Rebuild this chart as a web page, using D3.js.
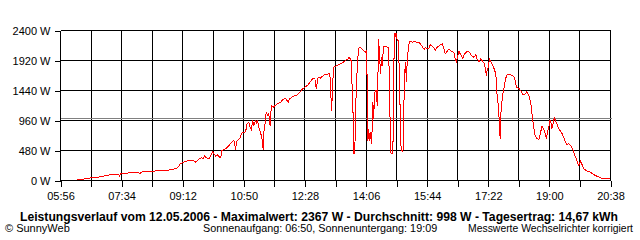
<!DOCTYPE html>
<html>
<head>
<meta charset="utf-8">
<script src="https://cdn.jsdelivr.net/npm/d3@7"></script>
<style>
html,body{margin:0;padding:0;background:#fff;}
svg{display:block;}
text{font-family:"Liberation Sans",Arial,sans-serif;}
</style>
</head>
<body>
<svg id="chart" width="640" height="240"></svg>
<script>
// ---- data ----
const times = ["06:22","06:36","06:46","07:00","07:10","07:19","07:29","07:31","07:32","07:43","07:45","08:01","08:03","08:08","08:24","08:30","08:46","08:52","08:59","09:04","09:08","09:13","09:20","09:29","09:33","09:37","09:42","09:45","09:47","09:50","09:54","09:57","10:00","10:02","10:05","10:08","10:12","10:14","10:15","10:21","10:26","10:29","10:31","10:34","10:37","10:38","10:40","10:44","10:46","10:49","10:51","10:54","10:55","10:58","11:00","11:02","11:04","11:06","11:09","11:10","11:12","11:14","11:17","11:19","11:21","11:22","11:24","11:25","11:26","11:28","11:30","11:32","11:33","11:34","11:37","11:44","11:49","11:52","11:57","12:01","12:03","12:10","12:16","12:21","12:24","12:26","12:30","12:33","12:37","12:41","12:44","12:46","12:49","12:50","12:53","12:56","13:01","13:08","13:09","13:11","13:12","13:14","13:17","13:22","13:28","13:33","13:37","13:39","13:42","13:45","13:46","13:48","13:49","13:52","13:54","13:57","14:00","14:02","14:05","14:07","14:09","14:10","14:12","14:14","14:15","14:16","14:17","14:18","14:20","14:22","14:24","14:25","14:26","14:28","14:29","14:31","14:32","14:34","14:40","14:42","14:44","14:45","14:48","14:49","14:51","14:52","14:53","14:54","14:56","14:58","15:00","15:02","15:04","15:06","15:07","15:08","15:09","15:11","15:12","15:14","15:15","15:16","15:20","15:25","15:28","15:31","15:33","15:36","15:38","15:40","15:41","15:44","15:47","15:49","15:52","15:55","15:57","16:00","16:03","16:05","16:08","16:11","16:13","16:16","16:19","16:21","16:24","16:27","16:29","16:31","16:33","16:35","16:37","16:41","16:44","16:48","16:52","16:55","16:59","17:02","17:04","17:07","17:10","17:13","17:16","17:19","17:20","17:22","17:24","17:27","17:31","17:34","17:35","17:36","17:38","17:40","17:41","17:42","17:43","17:45","17:47","17:50","17:52","17:56","18:00","18:03","18:06","18:07","18:11","18:15","18:18","18:22","18:24","18:27","18:30","18:32","18:35","18:37","18:39","18:43","18:46","18:48","18:51","18:54","18:55","18:57","18:59","19:01","19:03","19:04","19:06","19:08","19:10","19:12","19:15","19:18","19:20","19:23","19:26","19:28","19:31","19:34","19:37","19:39","19:42","19:45","19:47","19:50","19:53","19:55","20:01","20:06","20:11","20:17","20:22","20:27","20:37"];
const watts = [10,27,43,59,80,96,96,64,112,112,128,128,112,144,144,160,160,171,187,203,267,293,315,320,293,336,363,347,389,363,347,400,453,427,389,411,363,411,480,507,560,597,619,640,491,613,640,683,747,773,763,827,907,933,853,811,960,880,971,907,971,853,757,683,491,773,907,1024,1093,1040,1067,880,987,1200,1173,1227,1253,1291,1317,1253,1307,1349,1371,1424,1467,1477,1509,1531,1584,1637,1627,1467,1637,1653,1637,1669,1701,1707,1467,1120,1467,1813,1829,1851,1883,1920,1947,1973,1920,1152,427,427,1093,1840,2117,2133,2096,2080,2053,2080,640,827,640,773,587,933,1253,987,1413,1440,1200,1627,2267,1973,1707,1973,1840,2149,2133,2123,1413,453,427,427,2080,2367,2293,2363,2240,2240,1413,560,464,507,1413,1680,1893,1573,1947,2107,2187,2224,2213,2224,2203,2213,2187,2149,2107,2096,2133,2107,2117,2171,2149,2117,2080,2133,2149,2171,2187,2107,2027,2064,2107,2080,2064,2043,1936,1904,1989,2064,2027,1957,2027,2064,2053,2000,1973,2011,1947,1904,1947,1904,1867,1680,1760,1813,1947,1883,1797,1707,1600,1387,1200,891,667,1040,1173,1360,1467,1637,1691,1701,1680,1669,1573,1493,1477,1424,1371,1387,1424,1360,1253,1067,853,720,683,651,773,864,827,720,667,773,853,960,907,827,907,1003,949,907,827,789,757,693,613,576,587,560,507,453,373,293,240,309,240,187,149,133,96,64,43,27,27];
const yTicks = [0,480,960,1440,1920,2400];
const xTickLabels = ["05:56","07:34","09:12","10:50","12:28","14:06","15:44","17:22","19:00","20:38"];
const averageW = 998;
const maxW = 2367;
const dayYield = "14,67";
const dateStr = "12.05.2006";
const sunrise = "06:50";
const sunset = "19:09";

// ---- helpers ----
const toMin = s => { const [h,m] = s.split(":").map(Number); return h*60+m; };
const fmt = m => String(Math.floor(m/60)).padStart(2,"0")+":"+String(m%60).padStart(2,"0");

const t0 = toMin(xTickLabels[0]), t1 = toMin(xTickLabels[xTickLabels.length-1]);
const step = (toMin(xTickLabels[1]) - t0) / 2; // grid every half label interval
const gridTimes = d3.range(t0, t1 + 1, step);

const x = d3.scaleLinear().domain([t0, t1]).range([60.5, 610.5]);
const y = d3.scaleLinear().domain([0, 2400]).range([180.5, 30.5]);

const svg = d3.select("#chart");

// grid
const g = svg.append("g").attr("shape-rendering","crispEdges");
g.selectAll("line.h").data(yTicks).join("line")
  .attr("x1", x(t0)).attr("x2", x(t1))
  .attr("y1", d => Math.round(y(d)-0.5)+0.5).attr("y2", d => Math.round(y(d)-0.5)+0.5)
  .attr("stroke","#000").attr("stroke-width",1);
g.selectAll("line.v").data(gridTimes).join("line")
  .attr("x1", d => Math.round(x(d)-0.5)+0.5).attr("x2", d => Math.round(x(d)-0.5)+0.5)
  .attr("y1", y(0)).attr("y2", y(2400))
  .attr("stroke","#000").attr("stroke-width",1);

// average line
const ya = Math.round(y(averageW)-0.5)+0.5;
svg.append("line").attr("shape-rendering","crispEdges")
  .attr("x1", x(t0)).attr("x2", x(t1)+1).attr("y1", ya).attr("y2", ya)
  .attr("stroke","#808080").attr("stroke-width",1);

// axes (ticks + labels)
const yAxis = d3.axisLeft(y).tickValues(yTicks).tickSize(6).tickPadding(4)
  .tickFormat(d => d + " W");
const ya_g = svg.append("g").attr("transform", `translate(${x(t0)},0)`).call(yAxis);
const xAxis = d3.axisBottom(x).tickValues(gridTimes).tickSize(6).tickPadding(6)
  .tickFormat(d => xTickLabels.includes(fmt(d)) ? fmt(d) : "");
const xa_g = svg.append("g").attr("transform", `translate(0,${y(0)})`).call(xAxis);
[ya_g, xa_g].forEach(a => {
  a.select(".domain").remove();
  a.selectAll("line").attr("stroke","#000").attr("shape-rendering","crispEdges");
  a.selectAll("text").attr("font-family","Liberation Sans, Arial, sans-serif").attr("font-size","11px").attr("fill","#000");
});

// power line
const pts = times.map((t,i) => [toMin(t), watts[i]]);
const line = d3.line().x(d => x(d[0])).y(d => y(d[1]));
svg.append("path").datum(pts)
  .attr("d", line).attr("fill","none")
  .attr("stroke","#ff0000").attr("stroke-width",1)
  .attr("shape-rendering","crispEdges");

// texts
svg.append("text").attr("x", 319).attr("y", 220.5)
  .attr("text-anchor","middle").attr("font-weight","bold").attr("font-size","12.5px")
  .attr("textLength", 598).attr("lengthAdjust","spacingAndGlyphs")
  .text(`Leistungsverlauf vom ${dateStr} - Maximalwert: ${maxW} W - Durchschnitt: ${averageW} W - Tagesertrag: ${dayYield} kWh`);
svg.append("text").attr("x", 5).attr("y", 232).attr("font-size","11px")
  .text("© SunnyWeb");
svg.append("text").attr("x", 203).attr("y", 232).attr("font-size","10.8px")
  .text(`Sonnenaufgang: ${sunrise}, Sonnenuntergang: ${sunset}`);
svg.append("text").attr("x", 633).attr("y", 232).attr("font-size","10.4px")
  .attr("text-anchor","end")
  .text("Messwerte Wechselrichter korrigiert");
</script>
</body>
</html>
